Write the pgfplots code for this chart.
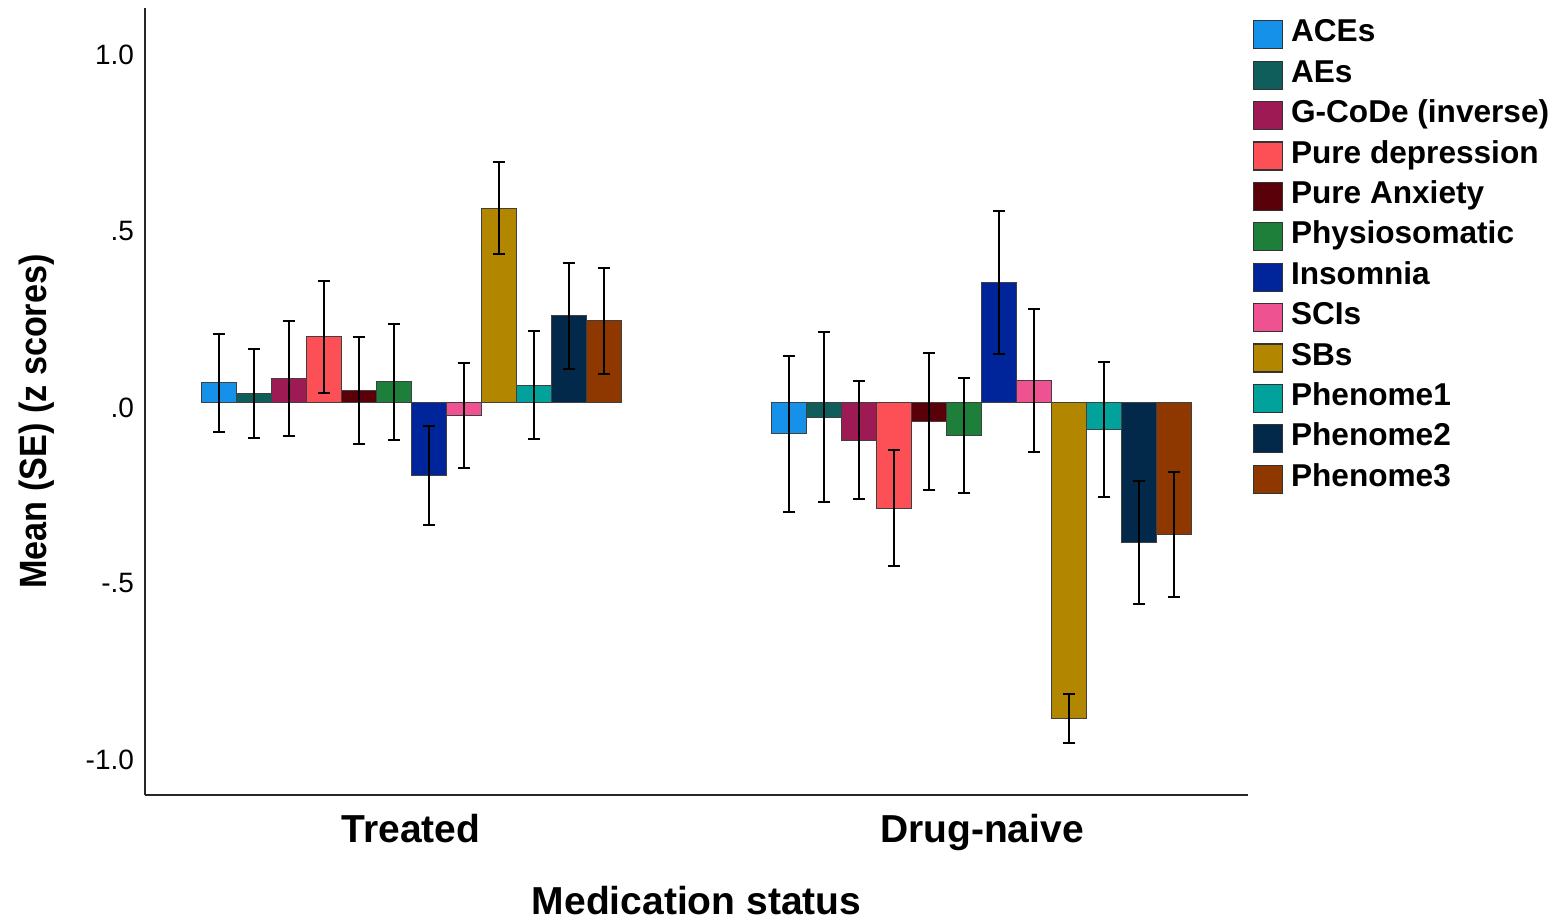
\documentclass[border=0pt]{standalone}
\usepackage{pgfplots}
\pgfplotsset{compat=1.18}
\usepackage{fontspec}
\setmainfont{Liberation Sans}
\definecolor{cACE}{HTML}{1591EA}
\definecolor{cAE}{HTML}{0F5E5C}
\definecolor{cGC}{HTML}{9E1A55}
\definecolor{cPD}{HTML}{FC4F56}
\definecolor{cPA}{HTML}{5A0008}
\definecolor{cPS}{HTML}{1E7F3A}
\definecolor{cIN}{HTML}{00259A}
\definecolor{cSC}{HTML}{EE5290}
\definecolor{cSB}{HTML}{B38600}
\definecolor{cP1}{HTML}{00A29B}
\definecolor{cP2}{HTML}{02284A}
\definecolor{cP3}{HTML}{8E3800}
\begin{document}
\begin{tikzpicture}
\begin{axis}[
  scale only axis,
  width=551.5pt, height=393.5pt,
  xmin=-0.466, xmax=1.466,
  ymin=-1.115, ymax=1.12,
  axis lines=left,
  axis line style={-, line width=1.1pt, black!85},
  clip=false,
  ybar=0pt,
  bar width=17.5pt,
  xtick={0,1},
  xticklabels={Treated, Drug-naive},
  ytick={-1,-0.5,0,0.5,1},
  yticklabels={-1.0,-.5,.0,.5,1.0},
  major tick length=0pt,
  /pgf/number format/assume math mode=true,
  xticklabel style={font=\fontsize{19.5}{22}\selectfont\bfseries, yshift=-6pt},
  yticklabel style={font=\fontsize{14}{16}\selectfont, xshift=-2pt, yshift=-2.5pt},
  xlabel={\fontsize{19.5}{22}\selectfont\bfseries Medication status},
  ylabel={\fontsize{19}{22}\selectfont\bfseries\scalebox{0.9}[1]{Mean (SE) (z scores)}},
  xlabel style={yshift=-14.5pt, inner sep=0pt, text depth=0pt},
  ylabel style={yshift=9pt, xshift=-10pt},
  every axis plot/.append style={draw=black!75, line width=0.5pt,
    error bars/y dir=both, error bars/y explicit,
    error bars/error bar style={line width=1pt, black},
    error bars/error mark options={rotate=90, mark size=3pt, line width=1pt, black}},
  legend image code/.code={\draw[#1, draw=black!80, line width=0.6pt] (0pt,-7pt) rectangle (14.5pt,7pt);},
  legend style={draw=none, fill=none, at={(1.004,0.988)}, anchor=north west, inner sep=0pt,
    row sep=3.2pt,
    font=\fontsize{15.8}{17}\selectfont\bfseries,
    nodes={inner sep=1pt, text height=11pt, text depth=4pt},
    /tikz/every odd column/.append style={column sep=3pt}},
  legend cell align=left,
]
\addplot[fill=cACE] coordinates {(0,0.056) +- (0,0.139) (1,-0.089) +- (0,0.221)};
\addlegendentry{ACEs}
\addplot[fill=cAE] coordinates {(0,0.026) +- (0,0.126) (1,-0.042) +- (0,0.241)};
\addlegendentry{AEs}
\addplot[fill=cGC] coordinates {(0,0.067) +- (0,0.163) (1,-0.107) +- (0,0.167)};
\addlegendentry{G-CoDe (inverse)}
\addplot[fill=cPD] coordinates {(0,0.186) +- (0,0.159) (1,-0.301) +- (0,0.165)};
\addlegendentry{Pure depression}
\addplot[fill=cPA] coordinates {(0,0.033) +- (0,0.152) (1,-0.054) +- (0,0.195)};
\addlegendentry{Pure Anxiety}
\addplot[fill=cPS] coordinates {(0,0.058) +- (0,0.166) (1,-0.095) +- (0,0.163)};
\addlegendentry{Physiosomatic}
\addplot[fill=cIN] coordinates {(0,-0.207) +- (0,0.140) (1,0.341) +- (0,0.203)};
\addlegendentry{Insomnia}
\addplot[fill=cSC] coordinates {(0,-0.036) +- (0,0.149) (1,0.061) +- (0,0.203)};
\addlegendentry{SCIs}
\addplot[fill=cSB] coordinates {(0,0.552) +- (0,0.131) (1,-0.897) +- (0,0.070)};
\addlegendentry{SBs}
\addplot[fill=cP1] coordinates {(0,0.049) +- (0,0.154) (1,-0.076) +- (0,0.192)};
\addlegendentry{Phenome1}
\addplot[fill=cP2] coordinates {(0,0.246) +- (0,0.150) (1,-0.398) +- (0,0.175)};
\addlegendentry{Phenome2}
\addplot[fill=cP3] coordinates {(0,0.232) +- (0,0.150) (1,-0.376) +- (0,0.177)};
\addlegendentry{Phenome3}
\path (rel axis cs:-0.1315,-0.1588) rectangle (rel axis cs:1.2783,1.0102);
\end{axis}
\end{tikzpicture}
\end{document}
